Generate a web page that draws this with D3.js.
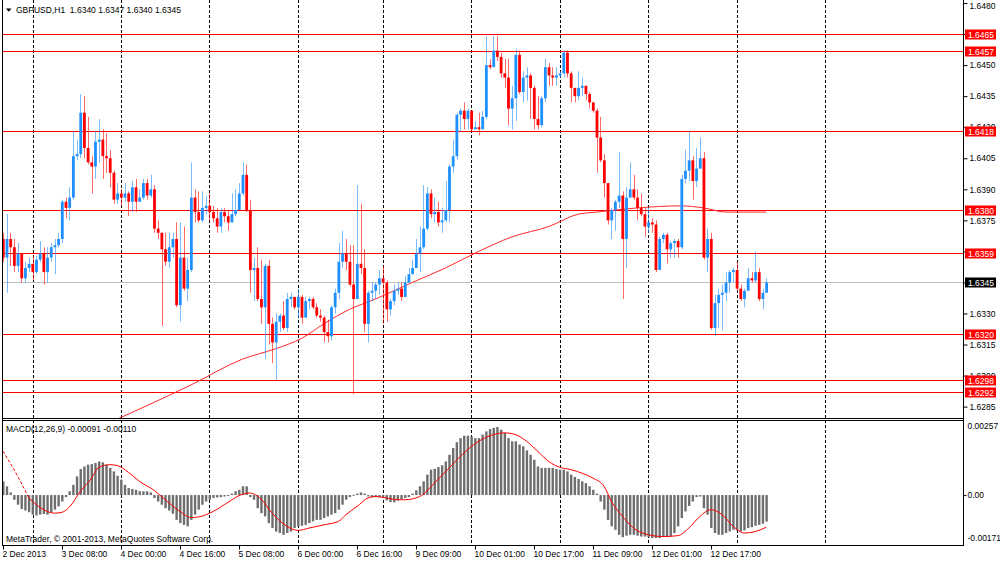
<!DOCTYPE html>
<html>
<head>
<meta charset="utf-8">
<title>GBPUSD,H1</title>
<script src="https://cdn.jsdelivr.net/npm/d3@7/dist/d3.min.js"></script>
<style>
body { margin: 0; background: #fff; }
svg text { font-family: "Liberation Sans", Arial, sans-serif; font-size: 8.5px; fill: #000; }
.axis path.domain { display: none; }
.axis line { stroke: #000; }
</style>
</head>
<body>
<svg id="chart" width="1000" height="562"></svg>
<script>
// GBPUSD H1, 2 Dec 16:00 .. 13 Dec 08:00 (208 bars), open = previous close
var firstOpen = 1.6366;
var closes = [
  1.6357,1.6366,1.6362,1.6353,1.6359,1.6347,1.6352,1.6354,1.6350,1.6356,
  1.6359,1.6350,1.6357,1.6362,1.6363,1.6366,1.6384,1.6381,1.6386,1.6406,
  1.6407,1.6427,1.6410,1.6403,1.6401,1.6413,1.6414,1.6406,1.6405,1.6398,
  1.6385,1.6388,1.6386,1.6388,1.6384,1.6391,1.6384,1.6386,1.6393,1.6387,
  1.6390,1.6371,1.6369,1.6361,1.6355,1.6362,1.6366,1.6334,1.6357,1.6342,
  1.6351,1.6386,1.6379,1.6375,1.6381,1.6382,1.6379,1.6376,1.6372,1.6379,
  1.6377,1.6374,1.6378,1.6380,1.6388,1.6397,1.6380,1.6351,1.6352,1.6337,
  1.6333,1.6353,1.6325,1.6316,1.6326,1.6329,1.6323,1.6337,1.6338,1.6333,
  1.6338,1.6328,1.6336,1.6337,1.6333,1.6329,1.6328,1.6321,1.6319,1.6333,
  1.6340,1.6355,1.6359,1.6355,1.6344,1.6337,1.6354,1.6352,1.6325,1.6340,
  1.6341,1.6344,1.6347,1.6345,1.6332,1.6336,1.6341,1.6342,1.6338,1.6345,
  1.6349,1.6352,1.6359,1.6362,1.6371,1.6388,1.6378,1.6379,1.6374,1.6375,
  1.6380,1.6401,1.6406,1.6426,1.6428,1.6424,1.6428,1.6419,1.6420,1.6419,
  1.6425,1.6450,1.6449,1.6457,1.6454,1.6446,1.6444,1.6429,1.6434,1.6455,
  1.6437,1.6444,1.6445,1.6439,1.6424,1.6421,1.6434,1.6449,1.6445,1.6444,
  1.6445,1.6446,1.6456,1.6446,1.6439,1.6435,1.6439,1.6440,1.6436,1.6432,
  1.6428,1.6415,1.6404,1.6393,1.6375,1.6380,1.6384,1.6387,1.6366,1.6386,
  1.6390,1.6386,1.6381,1.6378,1.6372,1.6374,1.6373,1.6351,1.6366,1.6368,
  1.6361,1.6364,1.6365,1.6362,1.6395,1.6399,1.6404,1.6394,1.6400,1.6405,
  1.6357,1.6366,1.6323,1.6335,1.6339,1.6340,1.6345,1.6350,1.6351,1.6342,
  1.6337,1.6341,1.6347,1.6346,1.6350,1.6337,1.6340,1.6345
];
var highs = [
  1.6369,1.6378,1.6369,1.6366,1.6364,1.6359,1.6355,1.6357,1.6358,1.6358,
  1.6365,1.6362,1.6362,1.6364,1.6366,1.6369,1.6385,1.6386,1.6391,1.6418,
  1.6414,1.6436,1.6435,1.6425,1.6406,1.6418,1.6424,1.6419,1.6417,1.6409,
  1.6399,1.6393,1.6390,1.6393,1.6389,1.6394,1.6395,1.6390,1.6395,1.6395,
  1.6397,1.6392,1.6375,1.6369,1.6369,1.6369,1.6369,1.6374,1.6374,1.6372,
  1.6357,1.6403,1.6390,1.6389,1.6389,1.6387,1.6388,1.6382,1.6381,1.6381,
  1.6381,1.6380,1.6388,1.6390,1.6393,1.6403,1.6402,1.6385,1.6357,1.6362,
  1.6356,1.6354,1.6356,1.6328,1.6330,1.6330,1.6336,1.6340,1.6340,1.6338,
  1.6342,1.6339,1.6338,1.6338,1.6338,1.6335,1.6332,1.6329,1.6327,1.6334,
  1.6342,1.6364,1.6370,1.6366,1.6363,1.6363,1.6392,1.6383,1.6361,1.6341,
  1.6345,1.6345,1.6351,1.6353,1.6346,1.6337,1.6344,1.6345,1.6345,1.6348,
  1.6352,1.6356,1.6366,1.6372,1.6392,1.6391,1.6390,1.6386,1.6384,1.6381,
  1.6394,1.6402,1.6414,1.6427,1.6429,1.6432,1.6429,1.6427,1.6423,1.6427,
  1.6428,1.6464,1.6453,1.6464,1.6464,1.6456,1.6453,1.6453,1.6440,1.6458,
  1.6457,1.6447,1.6449,1.6446,1.6440,1.6435,1.6435,1.6453,1.6451,1.6449,
  1.6449,1.6447,1.6457,1.6457,1.6447,1.6439,1.6447,1.6444,1.6439,1.6437,
  1.6432,1.6429,1.6425,1.6407,1.6393,1.6381,1.6385,1.6408,1.6389,1.6391,
  1.6403,1.6397,1.6390,1.6388,1.6381,1.6381,1.6376,1.6375,1.6367,1.6369,
  1.6369,1.6365,1.6366,1.6366,1.6397,1.6409,1.6418,1.6406,1.6410,1.6415,
  1.6408,1.6371,1.6369,1.6339,1.6342,1.6344,1.6350,1.6351,1.6352,1.6355,
  1.6344,1.6342,1.6352,1.6350,1.6360,1.6352,1.6342,1.6347
];
var lows = [
  1.6355,1.6340,1.6353,1.6350,1.6350,1.6345,1.6345,1.6350,1.6346,1.6349,
  1.6355,1.6344,1.6345,1.6355,1.6349,1.6362,1.6364,1.6376,1.6375,1.6385,
  1.6404,1.6405,1.6405,1.6402,1.6388,1.6395,1.6403,1.6395,1.6398,1.6391,
  1.6383,1.6383,1.6382,1.6384,1.6377,1.6379,1.6379,1.6384,1.6385,1.6385,
  1.6386,1.6369,1.6366,1.6324,1.6353,1.6352,1.6357,1.6333,1.6326,1.6341,
  1.6336,1.6350,1.6374,1.6374,1.6374,1.6378,1.6375,1.6374,1.6369,1.6369,
  1.6374,1.6370,1.6375,1.6377,1.6381,1.6387,1.6379,1.6340,1.6336,1.6336,
  1.6325,1.6308,1.6315,1.6306,1.6298,1.6321,1.6322,1.6321,1.6333,1.6332,
  1.6328,1.6325,1.6328,1.6332,1.6332,1.6328,1.6326,1.6316,1.6316,1.6317,
  1.6330,1.6337,1.6352,1.6351,1.6343,1.6291,1.6338,1.6349,1.6321,1.6316,
  1.6336,1.6337,1.6339,1.6325,1.6326,1.6329,1.6334,1.6339,1.6336,1.6340,
  1.6345,1.6350,1.6352,1.6350,1.6361,1.6370,1.6376,1.6374,1.6372,1.6369,
  1.6374,1.6374,1.6398,1.6404,1.6418,1.6419,1.6419,1.6418,1.6419,1.6416,
  1.6419,1.6424,1.6448,1.6449,1.6452,1.6444,1.6439,1.6421,1.6419,1.6423,
  1.6436,1.6432,1.6433,1.6424,1.6419,1.6419,1.6420,1.6432,1.6440,1.6440,
  1.6440,1.6444,1.6444,1.6444,1.6432,1.6432,1.6433,1.6435,1.6433,1.6429,
  1.6427,1.6398,1.6403,1.6386,1.6373,1.6366,1.6370,1.6381,1.6337,1.6352,
  1.6386,1.6385,1.6375,1.6377,1.6367,1.6369,1.6369,1.6350,1.6351,1.6364,
  1.6354,1.6357,1.6357,1.6357,1.6361,1.6393,1.6394,1.6385,1.6391,1.6401,
  1.6356,1.6350,1.6322,1.6319,1.6323,1.6322,1.6336,1.6340,1.6345,1.6341,
  1.6336,1.6333,1.6341,1.6345,1.6345,1.6336,1.6332,1.6340
];

// moving average (read points: bar index, price)
var maIdx = [26, 51, 65, 74, 81, 87, 94, 101, 111, 120, 129, 138, 148, 156, 161, 172, 184, 190, 196, 207];
var maVal = [1.6275, 1.62955, 1.6308, 1.6313, 1.6318, 1.6325, 1.6332, 1.6337, 1.6345, 1.6352,
             1.6360, 1.6367, 1.6372, 1.6378, 1.6379, 1.6381, 1.6382, 1.6381, 1.6379, 1.6379];

// horizontal levels and current bid
var levels = [1.6465, 1.6457, 1.6418, 1.6380, 1.6359, 1.6320, 1.6298, 1.6292];
var bid = 1.6345;
var priceTicks = [1.6480, 1.6465, 1.6450, 1.6435, 1.6420, 1.6405, 1.6390, 1.6375, 1.6360, 1.6345, 1.6330, 1.6315, 1.6300, 1.6285];

// MACD(12,26,9) histogram per bar
var macdHist = [
  0.00047,0.00030,0.00009,-0.00016,-0.00033,-0.00048,-0.00053,-0.00059,-0.00067,-0.00070,
  -0.00067,-0.00065,-0.00067,-0.00059,-0.00050,-0.00039,-0.00022,-0.00007,0.00013,0.00035,
  0.00064,0.00089,0.00098,0.00104,0.00106,0.00110,0.00115,0.00112,0.00104,0.00093,
  0.00081,0.00066,0.00053,0.00035,0.00024,0.00021,0.00018,0.00013,0.00013,0.00013,
  0.00009,-0.00010,-0.00022,-0.00033,-0.00045,-0.00053,-0.00064,-0.00085,-0.00096,-0.00102,
  -0.00107,-0.00085,-0.00067,-0.00050,-0.00033,-0.00022,-0.00016,-0.00010,-0.00008,-0.00007,
  -0.00005,-0.00002,0.00005,0.00013,0.00018,0.00030,0.00030,-0.00007,-0.00016,-0.00045,
  -0.00062,-0.00073,-0.00096,-0.00113,-0.00125,-0.00130,-0.00136,-0.00130,-0.00125,-0.00113,
  -0.00107,-0.00105,-0.00102,-0.00096,-0.00090,-0.00085,-0.00085,-0.00079,-0.00073,-0.00067,
  -0.00062,-0.00050,-0.00033,-0.00016,-0.00007,0.00001,0.00005,0.00009,0.00005,-0.00005,
  -0.00007,-0.00007,-0.00007,-0.00010,-0.00018,-0.00024,-0.00025,-0.00019,-0.00014,-0.00010,
  -0.00007,0.00005,0.00016,0.00030,0.00047,0.00070,0.00087,0.00090,0.00096,0.00102,
  0.00115,0.00138,0.00161,0.00181,0.00195,0.00203,0.00203,0.00201,0.00195,0.00195,
  0.00207,0.00218,0.00226,0.00230,0.00233,0.00224,0.00213,0.00195,0.00184,0.00184,
  0.00173,0.00167,0.00153,0.00138,0.00121,0.00098,0.00093,0.00093,0.00093,0.00093,
  0.00089,0.00087,0.00087,0.00081,0.00070,0.00062,0.00055,0.00047,0.00041,0.00030,
  0.00018,0.00005,-0.00022,-0.00050,-0.00085,-0.00107,-0.00119,-0.00136,-0.00144,-0.00139,
  -0.00136,-0.00136,-0.00139,-0.00142,-0.00142,-0.00144,-0.00147,-0.00147,-0.00147,-0.00144,
  -0.00144,-0.00142,-0.00130,-0.00107,-0.00079,-0.00056,-0.00037,-0.00022,-0.00007,-0.00005,
  -0.00045,-0.00067,-0.00113,-0.00130,-0.00136,-0.00136,-0.00130,-0.00125,-0.00119,-0.00121,
  -0.00125,-0.00121,-0.00113,-0.00110,-0.00105,-0.00102,-0.00098,-0.00091
];
// signal line (read points: bar index, value)
var sigIdx = [0,4,7,11,14,16,18,21,24,26,29,31,34,37,41,44,48,51,53,57,61,64,67,70,73,77,80,83,87,91,93,96,99,101,104,107,
              109,113,117,121,125,129,133,136,139,142,145,148,151,154,157,160,163,165,168,171,175,179,183,186,189,192,195,198,201,204,207];
var sigVal = [0.00150,0.00064,-0.00010,-0.00050,-0.00062,-0.00059,-0.00041,0.00013,0.00058,0.00095,0.00104,0.00101,0.00078,0.00047,
              0.00016,-0.00016,-0.00056,-0.00077,-0.00075,-0.00056,-0.00025,-0.00002,0.00007,-0.00014,-0.00062,-0.00107,-0.00121,
              -0.00113,-0.00102,-0.00090,-0.00067,-0.00039,-0.00010,-0.00005,-0.00010,-0.00016,
              -0.00016,-0.00005,0.00041,0.00093,0.00144,0.00184,0.00207,0.00213,0.00207,0.00184,0.00150,0.00115,0.00095,0.00087,
              0.00075,0.00058,0.00030,-0.00022,-0.00073,-0.00113,-0.00136,-0.00142,-0.00139,-0.00113,-0.00073,-0.00050,-0.00067,
              -0.00107,-0.00130,-0.00125,-0.00110];
var macdTicks = [0.00257, 0, -0.00171];

// time axis
var timeIdx = [0, 16, 32, 48, 64, 80, 96, 112, 128, 144, 160, 176, 192];
var timeLabels = ["2 Dec 2013", "3 Dec 08:00", "4 Dec 00:00", "4 Dec 16:00", "5 Dec 08:00", "6 Dec 00:00", "6 Dec 16:00",
                  "9 Dec 09:00", "10 Dec 01:00", "10 Dec 17:00", "11 Dec 09:00", "12 Dec 01:00", "12 Dec 17:00"];
var gridIdx = [8, 32, 56, 80, 103, 127, 151, 175, 199, 223];

var left = 2, right = 963;
var mainTop = 0, mainBottom = 418, macdTop = 420, macdBottom = 545;

var svg = d3.select("#chart");

var x = d3.scaleLinear().domain([0, 207]).range([3, 3 + 207 * 3.6875]);
var y = d3.scaleLinear().domain([1.62795, 1.64805]).range([mainBottom, 2]);
var ym = d3.scaleLinear().domain([-0.00171, 0.00257]).range([macdBottom, macdTop]);

function crisp(v) { return Math.round(v) + 0.5; }

var defs = svg.append("defs");
defs.append("clipPath").attr("id", "clipMain").append("rect")
  .attr("x", left).attr("y", mainTop).attr("width", right - left).attr("height", mainBottom - mainTop);
defs.append("clipPath").attr("id", "clipMacd").append("rect")
  .attr("x", left).attr("y", macdTop).attr("width", right - left).attr("height", macdBottom - macdTop);

// vertical dashed grid through both panels
svg.append("g").selectAll("line").data(gridIdx).enter().append("line")
  .attr("x1", function(d) { return crisp(x(d)); })
  .attr("x2", function(d) { return crisp(x(d)); })
  .attr("y1", mainTop).attr("y2", macdBottom)
  .attr("stroke", "#000").attr("stroke-dasharray", "3,2");

var main = svg.append("g").attr("clip-path", "url(#clipMain)");

// levels
main.selectAll("line.level").data(levels).enter().append("line")
  .attr("class", "level")
  .attr("x1", left).attr("x2", right)
  .attr("y1", function(d) { return crisp(y(d)); })
  .attr("y2", function(d) { return crisp(y(d)); })
  .attr("stroke", "#ff0000");

main.append("line")
  .attr("x1", left).attr("x2", right)
  .attr("y1", crisp(y(bid))).attr("y2", crisp(y(bid)))
  .attr("stroke", "#c0c0c0");

// moving average
var maPts = maIdx.map(function(d, i) { return [d, maVal[i]]; });
main.append("path")
  .attr("d", d3.line().x(function(d) { return x(d[0]); }).y(function(d) { return y(d[1]); })
    .curve(d3.curveMonotoneX)(maPts))
  .attr("fill", "none").attr("stroke", "#ff2a2a").attr("stroke-width", 1);

// candles
var bars = closes.map(function(c, i) {
  var o = i === 0 ? firstOpen : closes[i - 1];
  return { i: i, o: o, c: c, h: Math.max(highs[i], o, c), l: Math.min(lows[i], o, c) };
});
var bull = "#1e90ff", bear = "#ff0000";
var cg = main.append("g");
cg.selectAll("line").data(bars).enter().append("line")
  .attr("x1", function(d) { return crisp(x(d.i)); })
  .attr("x2", function(d) { return crisp(x(d.i)); })
  .attr("y1", function(d) { return y(d.h); })
  .attr("y2", function(d) { return y(d.l); })
  .attr("stroke", function(d) { return d.c >= d.o ? bull : bear; })
  .attr("stroke-opacity", 0.6);
cg.selectAll("rect").data(bars).enter().append("rect")
  .attr("x", function(d) { return x(d.i) - 1.1; })
  .attr("width", 2.8)
  .attr("y", function(d) { return y(Math.max(d.o, d.c)); })
  .attr("height", function(d) { return Math.max(1, Math.abs(y(d.o) - y(d.c))); })
  .attr("fill", function(d) { return d.c >= d.o ? bull : bear; });

// MACD panel
var macd = svg.append("g").attr("clip-path", "url(#clipMacd)");
macd.selectAll("rect").data(macdHist).enter().append("rect")
  .attr("x", function(d, i) { return x(i) - 0.9; })
  .attr("width", 2.4)
  .attr("y", function(d) { return ym(Math.max(d, 0)); })
  .attr("height", function(d) { return Math.max(1, Math.abs(ym(d) - ym(0))); })
  .attr("fill", "#6e6e6e");

var sigPts = sigIdx.map(function(d, i) { return [d, sigVal[i]]; });
var sigLine = d3.line().x(function(d) { return x(d[0]); }).y(function(d) { return ym(d[1]); }).curve(d3.curveMonotoneX);
macd.append("path").attr("d", sigLine(sigPts.slice(0, 3)))
  .attr("fill", "none").attr("stroke", "#ff0000").attr("stroke-dasharray", "3,2");
macd.append("path").attr("d", sigLine(sigPts.slice(2)))
  .attr("fill", "none").attr("stroke", "#ff0000");

// frames
var frame = svg.append("g").attr("stroke", "#000").attr("shape-rendering", "crispEdges");
frame.append("line").attr("x1", left + 0.5).attr("x2", left + 0.5).attr("y1", 0).attr("y2", macdBottom + 1);
frame.append("line").attr("x1", right + 0.5).attr("x2", right + 0.5).attr("y1", 0).attr("y2", macdBottom + 1);
frame.append("line").attr("x1", left).attr("x2", right + 1).attr("y1", mainBottom + 0.5).attr("y2", mainBottom + 0.5);
frame.append("line").attr("x1", left).attr("x2", right + 1).attr("y1", macdTop + 0.5).attr("y2", macdTop + 0.5);
frame.append("line").attr("x1", left).attr("x2", right + 1).attr("y1", macdBottom + 0.5).attr("y2", macdBottom + 0.5);

// price axis
svg.append("g").attr("class", "axis")
  .attr("transform", "translate(" + (right + 0.5) + ",0)")
  .call(d3.axisRight(y).tickValues(priceTicks).tickSize(4).tickSizeOuter(0).tickFormat(d3.format(".4f")))
  .call(function(g) {
    g.selectAll("text").attr("x", 6)
      .attr("dy", function(d) { return d === priceTicks[0] ? "0.6em" : "0.32em"; });
  });

// level / bid boxes
var boxes = levels.map(function(v) { return { v: v, fill: "#ff0000" }; }).concat([{ v: bid, fill: "#000" }]);
var bg = svg.append("g").selectAll("g").data(boxes).enter().append("g")
  .attr("transform", function(d) { return "translate(" + (right + 2) + "," + Math.round(y(d.v)) + ")"; });
bg.append("rect").attr("x", 0).attr("y", -4.5).attr("width", 31).attr("height", 10).attr("fill", function(d) { return d.fill; });
bg.append("text").attr("x", 3).attr("y", 3.5).style("fill", "#fff").text(function(d) { return d.v.toFixed(4); });

// MACD axis
svg.append("g").attr("class", "axis")
  .attr("transform", "translate(" + (right + 0.5) + ",0)")
  .call(d3.axisRight(ym).tickValues(macdTicks).tickSize(3).tickSizeOuter(0)
    .tickFormat(function(d) { return d === 0 ? "0.00" : d.toFixed(5); }))
  .call(function(g) {
    g.selectAll("text").attr("x", 4).attr("dy", function(d) {
      return d === 0 ? "0.32em" : (d > 0 ? "0.95em" : "-0.55em");
    });
    g.selectAll("line").attr("display", function(d) { return d === 0 ? null : "none"; });
  });

// time axis
svg.append("g").attr("class", "axis")
  .attr("transform", "translate(0," + (macdBottom + 0.5) + ")")
  .call(d3.axisBottom(x).tickValues(timeIdx).tickSize(4).tickSizeOuter(0)
    .tickFormat(function(d, i) { return timeLabels[i]; }))
  .call(function(g) {
    g.selectAll(".tick").attr("transform", function(d) { return "translate(" + crisp(x(d)) + ",0)"; });
    g.selectAll("text").attr("text-anchor", "start").attr("x", -1).attr("y", 5);
  });

// labels
svg.append("path").attr("d", "M6,8.5 L11.5,8.5 L8.75,11.8 Z").attr("fill", "#000");
svg.append("text").attr("x", 16).attr("y", 13).attr("xml:space", "preserve")
  .text("GBPUSD,H1  1.6340 1.6347 1.6340 1.6345");
svg.append("text").attr("x", 6).attr("y", 432).text("MACD(12,26,9) -0.00091 -0.00110");
svg.append("text").attr("x", 6).attr("y", 541.5).text("MetaTrader, \u00a9 2001-2013, MetaQuotes Software Corp.");
</script>
</body>
</html>
